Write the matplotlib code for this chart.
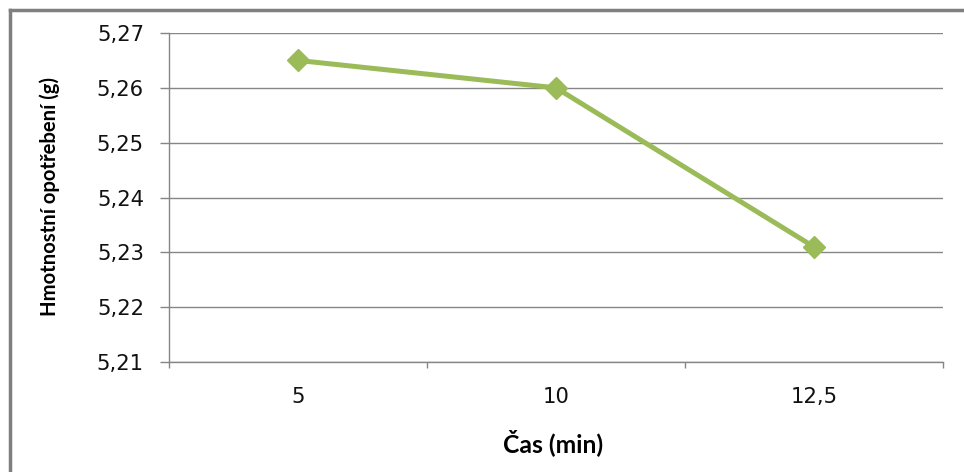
import numpy as np
import matplotlib
matplotlib.use("Agg")
import matplotlib.pyplot as plt
import matplotlib.lines as mlines
from matplotlib.ticker import FixedLocator, NullFormatter

# data
categories = ["5", "10", "12,5"]
mass_wear = [5.265, 5.260, 5.231]
y_ticks = [5.21, 5.22, 5.23, 5.24, 5.25, 5.26, 5.27]

line_color = "#9BBB59"
grid_color = "#868686"


def fit_size(text, target_px, renderer, horizontal=True):
    """scale the font so the text spans target_px pixels"""
    bb = text.get_window_extent(renderer)
    cur = bb.width if horizontal else bb.height
    return text.get_fontsize() * target_px / cur


fig = plt.figure(figsize=(9.64, 4.72), dpi=100)
ax = fig.add_axes([169 / 964, 1 - 362 / 472, 774 / 964, 329 / 472])

x = np.arange(len(categories))
ax.plot(x, mass_wear, color=line_color, lw=3.6, marker="D", ms=11,
        markeredgecolor=line_color, zorder=3)

ax.set_xlim(-0.5, len(categories) - 0.5)
ax.set_ylim(y_ticks[0], y_ticks[-1])
ax.set_yticks(y_ticks)
ax.set_yticklabels([f"{v:.2f}".replace(".", ",") for v in y_ticks])
ax.set_xticks(x)
ax.set_xticklabels(categories)
ax.xaxis.set_minor_locator(FixedLocator(np.arange(len(categories) + 1) - 0.5))
ax.xaxis.set_minor_formatter(NullFormatter())

ax.grid(axis="y", color=grid_color, lw=1)
ax.set_axisbelow(True)
for side in ["top", "right"]:
    ax.spines[side].set_visible(False)
for side in ["left", "bottom"]:
    ax.spines[side].set_color(grid_color)
    ax.spines[side].set_linewidth(1)

ax.tick_params(axis="y", length=6.5, width=1, color=grid_color, pad=11.5,
               labelsize=15, labelcolor="#111111")
ax.tick_params(axis="x", which="major", length=0, pad=18,
               labelsize=15, labelcolor="#111111")
ax.tick_params(axis="x", which="minor", length=4.3, width=1, color=grid_color)

ylab = ax.set_ylabel("Hmotnostní opotřebení (g)", fontsize=14, fontweight="bold",
                     family=["Lato", "DejaVu Sans"])
ax.yaxis.set_label_coords((60 - 169) / 774, (362 - 196) / 329)
xlab = ax.set_xlabel("Čas (min)", fontsize=14, fontweight="bold",
                     family=["Lato", "DejaVu Sans"], va="center")
ax.xaxis.set_label_coords((553 - 169) / 774, (362 - 443) / 329)

# size the texts to the widths measured on the reference
r = fig.canvas.get_renderer()
ylab.set_fontsize(fit_size(ylab, 240, r, horizontal=False))
xlab.set_fontsize(fit_size(xlab, 101, r))
tick_size = fit_size(ax.get_yticklabels()[-1], 47, r)
ax.tick_params(axis="both", which="major", labelsize=tick_size)

# outer chart frame (only left and top edges fall inside the image)
frame_kw = dict(color="#7F7F7F", lw=2.5, transform=fig.transFigure)
fig.add_artist(mlines.Line2D([10 / 964, 10 / 964], [0, 1 - 10 / 472], **frame_kw))
fig.add_artist(mlines.Line2D([10 / 964, 1], [1 - 10 / 472, 1 - 10 / 472], **frame_kw))

fig.savefig("out.png", dpi=100)
